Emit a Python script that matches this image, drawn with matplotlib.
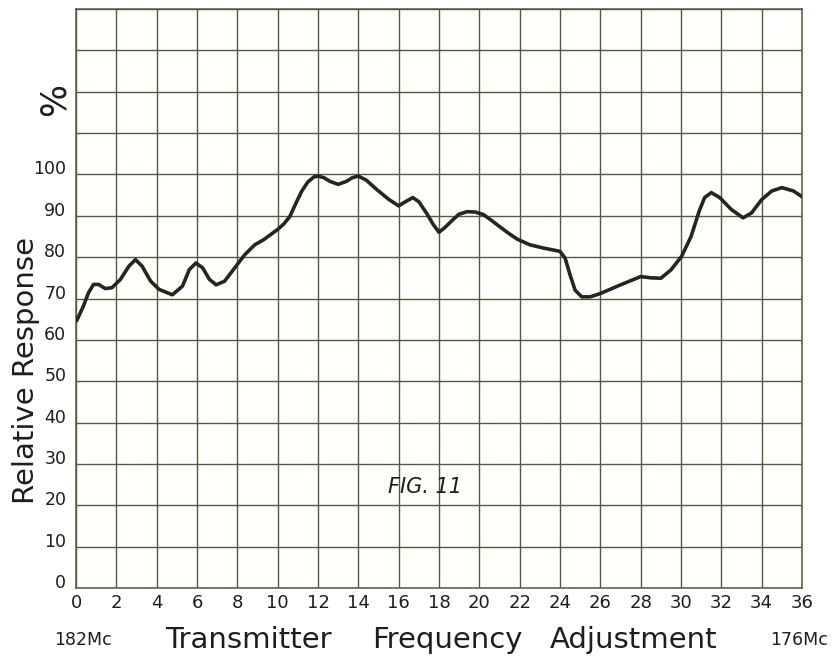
import matplotlib
matplotlib.use("Agg")
import matplotlib.pyplot as plt
from matplotlib.transforms import ScaledTranslation

# Relative response (%) against transmitter frequency adjustment
adjustment = [0.03, 0.37, 0.62, 0.87, 1.12, 1.45, 1.78, 2.2, 2.62, 2.95, 3.28,
              3.7, 4.12, 4.78, 5.28, 5.62, 5.95, 6.28, 6.62, 6.95, 7.37, 7.87,
              8.37, 8.87, 9.3, 10.0, 10.3, 10.6, 10.9, 11.2, 11.5, 11.8, 12.0,
              12.3, 12.6, 13.0, 13.4, 13.7, 14.0, 14.4, 14.9, 15.5, 16.0, 16.3,
              16.7, 17.0, 17.4, 17.7, 18.0, 18.3, 18.7, 19.0, 19.4, 19.8, 20.2,
              20.6, 21.0, 21.5, 21.9, 22.5, 23.17, 24.0, 24.25, 24.5, 24.75,
              25.08, 25.5, 26.0, 27.0, 28.0, 28.5, 29.0, 29.5, 30.03, 30.5,
              30.9, 31.17, 31.5, 31.92, 32.5, 33.08, 33.5, 34.0, 34.5, 35.0,
              35.58, 36.0]
response = [64.6, 68.2, 71.4, 73.4, 73.4, 72.4, 72.6, 74.6, 77.8, 79.4, 77.8,
            74.2, 72.2, 70.9, 73.0, 77.0, 78.6, 77.4, 74.6, 73.3, 74.2, 77.4,
            80.6, 83.0, 84.2, 86.7, 88.0, 89.8, 93.0, 96.0, 98.2, 99.4, 99.6,
            99.2, 98.3, 97.6, 98.3, 99.2, 99.6, 98.6, 96.4, 94.0, 92.4, 93.3,
            94.4, 93.4, 90.5, 88.0, 86.0, 87.2, 89.1, 90.4, 91.0, 90.9, 90.3,
            88.9, 87.4, 85.6, 84.3, 83.0, 82.2, 81.4, 79.8, 75.7, 72.0,
            70.4, 70.4, 71.2, 73.3, 75.3, 75.0, 74.9, 76.9, 80.2, 85.0,
            91.1, 94.4, 95.6, 94.4, 91.5, 89.5, 90.7, 93.9, 96.0, 96.8,
            96.0, 94.6]

x_ticks = list(range(0, 37, 2))
y_ticks = list(range(0, 101, 10))
y_grid = list(range(0, 141, 10))

grid_color = "#565a3c"
ink = "#1e1e18"

fig = plt.figure(figsize=(8.32, 6.64), dpi=100, facecolor="white")
ax = fig.add_axes([76 / 832, 76 / 664, 726 / 832, 579 / 664])
ax.set_facecolor("#fffffc")
ax.set_xlim(0, 36)
ax.set_ylim(0, 140)

# hand-ruled grid
for gx in x_ticks:
    ax.axvline(gx, color=grid_color, lw=1.0, zorder=1)
for gy in y_grid:
    ax.axhline(gy, color=grid_color, lw=1.0, zorder=1)
for s in ax.spines.values():
    s.set_color(grid_color)
    s.set_linewidth(1.1)

ax.plot(adjustment, response, color="#262620", lw=2.6,
        solid_joinstyle="round", solid_capstyle="round", zorder=3)

ax.set_xticks(x_ticks)
ax.set_xticklabels([str(v) for v in x_ticks], fontsize=13, color=ink)
ax.set_yticks(y_ticks)
ax.set_yticklabels([str(v) for v in y_ticks], fontsize=12.5, color=ink)
ax.tick_params(axis="x", length=0, pad=4)
ax.tick_params(axis="y", length=0, pad=7)
for lab in ax.get_yticklabels():
    lab.set_transform(lab.get_transform() + ScaledTranslation(0, 5 / 72, fig.dpi_scale_trans))

# axis titles and annotations
fig.text(26 / 832, 1 - 370 / 664, "Relative Response", rotation=90,
         ha="center", va="center", fontsize=21, color=ink)
fig.text(55 / 832, 1 - 100 / 664, "%", rotation=90,
         ha="center", va="center", fontsize=25, color=ink)

title_y = 1 - 640 / 664
fig.text(248 / 832, title_y, "Transmitter", ha="center", va="center", fontsize=21, color=ink)
fig.text(447 / 832, title_y, "Frequency", ha="center", va="center", fontsize=21, color=ink)
fig.text(634 / 832, title_y, "Adjustment", ha="center", va="center", fontsize=21, color=ink)
fig.text(83 / 832, title_y, "182Mc", ha="center", va="center", fontsize=12.5, color=ink)
fig.text(799 / 832, title_y, "176Mc", ha="center", va="center", fontsize=12.5, color=ink)

ax.text(17.3, 24.5, "FIG. 11", ha="center", va="center", fontsize=15,
        style="italic", color=ink, zorder=4)

fig.savefig("out.png", dpi=100, facecolor="white")
